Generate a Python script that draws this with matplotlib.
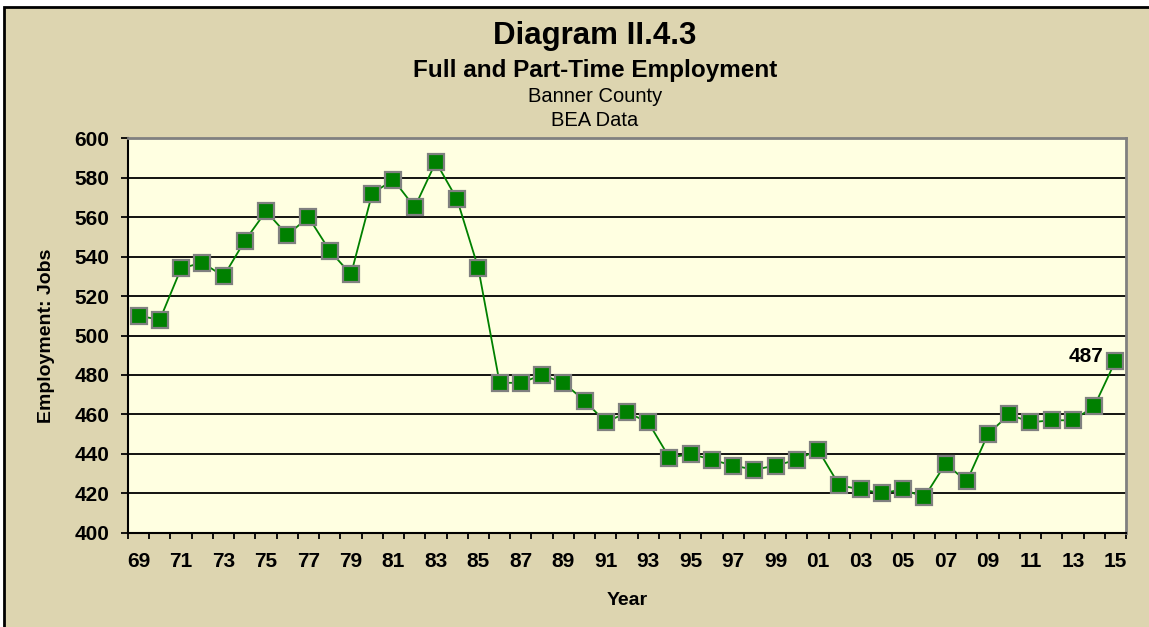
import matplotlib
matplotlib.use("Agg")
import matplotlib.pyplot as plt
from matplotlib.patches import Rectangle

# annual full and part-time jobs, 1969-2015
years = list(range(1969, 2016))
jobs = [510, 508, 534, 537, 530, 548, 563, 551, 560, 543,
        531, 572, 579, 565, 588, 569, 534, 476, 476, 480,
        476, 467, 456, 461, 456, 438, 440, 437, 434, 432,
        434, 437, 442, 424, 422, 420, 422, 418, 435, 426,
        450, 460, 456, 457, 457, 464, 487]
year_labels = ["%02d" % (y % 100) for y in years]

tan = "#ddd5b0"
plot_bg = "#ffffe1"
green = "#008000"

plt.rcParams["font.family"] = ["Liberation Sans", "DejaVu Sans"]

fig = plt.figure(figsize=(11.49, 6.27), dpi=100, facecolor="white")
# chart area background with black frame on the left/top
fig.patches.append(Rectangle((4 / 1149, -0.05), 1.1, 1.05 - 7 / 627,
                             transform=fig.transFigure, facecolor=tan,
                             edgecolor="black", linewidth=2, zorder=-1))

ax = fig.add_axes([128 / 1149, (627 - 532.7) / 627, 998 / 1149, 394.4 / 627])
ax.set_facecolor(plot_bg)

x = list(range(len(years)))
ax.plot(x, jobs, color=green, linewidth=1.3, marker="s", markersize=12,
        markerfacecolor=green, markeredgecolor="#808080", markeredgewidth=1.6,
        zorder=3, clip_on=False)

ax.set_xlim(-0.5, len(years) - 0.5)
ax.set_ylim(400, 600)
ax.set_yticks(range(400, 601, 20))
ax.yaxis.grid(True, color="black", linewidth=1.3)
ax.set_axisbelow(True)

# labels on every other year, tick marks between categories
ax.set_xticks(x[::2])
ax.set_xticklabels(year_labels[::2])
ax.set_xticks([i - 0.5 for i in range(len(years) + 1)], minor=True)
ax.tick_params(axis="x", which="major", length=0, pad=14)
ax.tick_params(axis="x", which="minor", length=4, width=1.3, direction="out")
ax.tick_params(axis="y", length=5, width=1.3, direction="out", pad=8.5)
for lab in ax.get_xticklabels() + ax.get_yticklabels():
    lab.set_fontsize(15)
    lab.set_fontweight("bold")

for side in ("left", "bottom"):
    ax.spines[side].set_color("black")
    ax.spines[side].set_linewidth(1.5)
for side in ("top", "right"):
    ax.spines[side].set_color("#808080")
    ax.spines[side].set_linewidth(2)

ax.set_xlabel("Year", fontsize=14, fontweight="bold", labelpad=15)
ax.set_ylabel("Employment: Jobs", fontsize=14, fontweight="bold", labelpad=14)

# value label on the latest year
ax.annotate(str(jobs[-1]), (x[-1], jobs[-1]), xytext=(-9, 3.5),
            textcoords="offset points", ha="right", va="center",
            fontsize=15, fontweight="bold")

cx = 595 / 1149
fig.text(cx, 1 - 36 / 627, "Diagram II.4.3", ha="center", va="center",
         fontsize=22.5, fontweight="bold")
fig.text(cx, 1 - 70 / 627, "Full and Part-Time Employment", ha="center",
         va="center", fontsize=17.5, fontweight="bold")
fig.text(cx, 1 - 97 / 627, "Banner County", ha="center", va="center",
         fontsize=14.5)
fig.text(cx, 1 - 120 / 627, "BEA Data", ha="center", va="center",
         fontsize=14.5)

fig.savefig("out.png", dpi=100, facecolor=fig.get_facecolor())
